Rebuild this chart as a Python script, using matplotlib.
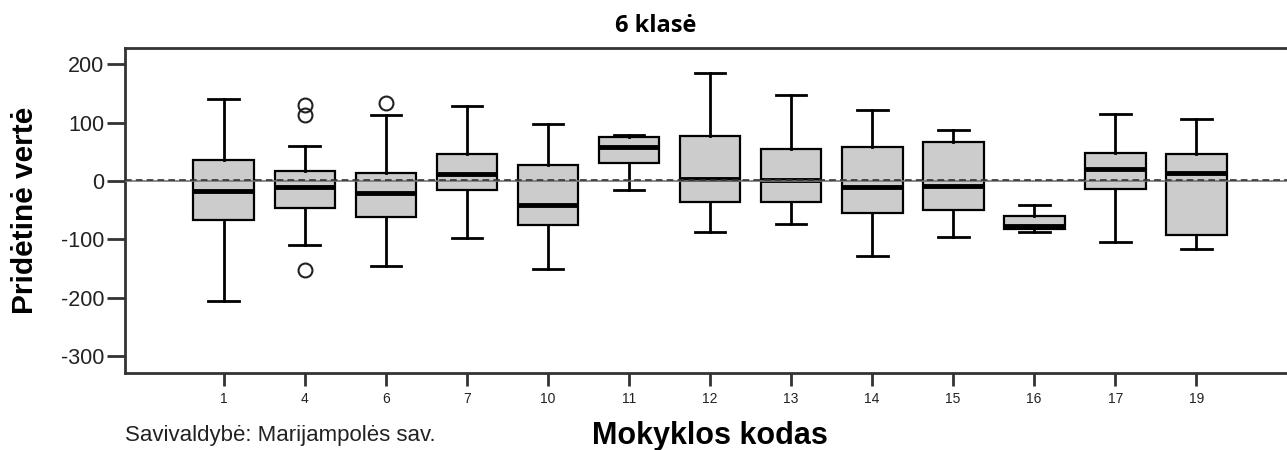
import matplotlib.pyplot as plt
import numpy as np

# school codes and box statistics
schools = ['1', '4', '6', '7', '10', '11', '12', '13', '14', '15', '16', '17', '19']
whislo = [-206, -110, -146, -98, -151, -15, -87, -74, -129, -96, -87, -104, -116]
q1 = [-67, -46, -62, -16, -76, 31, -36, -36, -55, -50, -82, -13, -93]
med = [-17, -10, -21, 12, -41, 59, 3, 2, -10, -8, -77, 21, 14]
q3 = [36, 17, 14, 46, 27, 75, 77, 55, 59, 67, -60, 48, 46]
whishi = [140, 60, 113, 129, 97, 79, 185, 148, 122, 87, -41, 115, 107]
fliers = [[], [130, 113, -153], [134], [], [], [], [], [], [], [], [], [], []]

plt.rcParams['font.family'] = ['Liberation Sans', 'DejaVu Sans']
plt.rcParams['axes.unicode_minus'] = False

fig = plt.figure(figsize=(12.87, 4.5), dpi=100)
ax = fig.add_axes([125 / 1287, 1 - 373 / 450, 1 - 125 / 1287, (373 - 48) / 450])

stats = []
for i in range(len(schools)):
    stats.append({'whislo': whislo[i], 'q1': q1[i], 'med': med[i], 'q3': q3[i],
                  'whishi': whishi[i], 'fliers': fliers[i], 'label': schools[i]})

pos = np.arange(len(schools))
ax.bxp(stats, positions=pos, widths=0.75, capwidths=0.38, patch_artist=True,
       boxprops=dict(facecolor='#cccccc', edgecolor='black', linewidth=1.6),
       medianprops=dict(color='black', linewidth=3.5),
       whiskerprops=dict(color='black', linewidth=2),
       capprops=dict(color='black', linewidth=2),
       flierprops=dict(marker='o', markerfacecolor='none', markeredgecolor='#222222',
                       markersize=10, markeredgewidth=1.5))

# reference line near zero
ax.axhline(0, color='#777777', linewidth=1.2, zorder=5)
ax.axhline(2.5, color='#333333', linewidth=1.2, linestyle=(0, (4, 2.5)), zorder=6)

ax.set_xlim(-1.22, 13.12)
ax.set_ylim(-329, 228)
ax.set_yticks([200, 100, 0, -100, -200, -300])
ax.set_xticks(pos)
ax.set_xticklabels(schools)

for s in ['left', 'bottom', 'top']:
    ax.spines[s].set_linewidth(2)
    ax.spines[s].set_color('#333333')
ax.spines['right'].set_visible(False)

ax.tick_params(axis='y', length=13, width=2, color='#333333', labelsize=15.5, pad=2, labelcolor='#222222')
ax.tick_params(axis='x', length=9, width=2, color='#333333', labelsize=10, pad=5, labelcolor='#222222')

fig.text(25 / 1287, 1 - 210 / 450, 'Pridėtinė vertė', ha='center', va='center', rotation=90,
         fontsize=21.5, fontweight='bold')

fig.text(656 / 1287, 1 - 26 / 450, '6 klasė', ha='center', va='center',
         fontsize=17, fontweight='bold', family=['Open Sans', 'DejaVu Sans'])
fig.text(710 / 1287, 1 - 436 / 450, 'Mokyklos kodas', ha='center', va='center',
         fontsize=22, fontweight='bold')
fig.text(125 / 1287, 1 - 436 / 450, 'Savivaldybė: Marijampolės sav.', ha='left', va='center',
         fontsize=16, color='#222222')

fig.savefig('out.png', dpi=100)
